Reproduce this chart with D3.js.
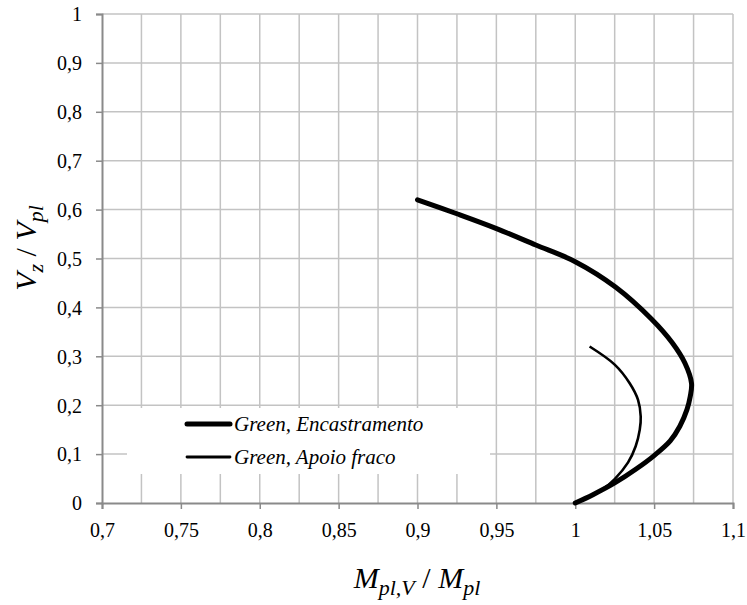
<!DOCTYPE html>
<html>
<head>
<meta charset="utf-8">
<script src="https://cdn.jsdelivr.net/npm/d3@7"></script>
<style>
  html, body { margin: 0; padding: 0; background: #fff; }
  .title { position: absolute; font-family: "Times New Roman"; font-size: 30px; font-style: italic;
           text-align: center; white-space: nowrap; line-height: 34px; height: 34px; color: #000; }
  .title .sub { font-size: 22px; position: relative; top: 7px; }
  .title .sl { font-style: normal; }
  #xtitle { left: 0; width: 834px; top: 561px; }
  #ytitle { left: -124px; top: 231px; width: 300px; transform: rotate(-90deg); }
  #chart { position: absolute; left: 0; top: 0; }
</style>
</head>
<body>
<svg id="chart" width="747" height="605"></svg>
<div class="title" id="xtitle">M<span class="sub">pl,V</span> <span class="sl">/</span> M<span class="sub">pl</span></div>
<div class="title" id="ytitle">V<span class="sub">z</span> <span class="sl">/</span> V<span class="sub">pl</span></div>
<script>
// ---- data ----
const xTicks = [0.7, 0.75, 0.8, 0.85, 0.9, 0.95, 1, 1.05, 1.1];
const yTicks = [0, 0.1, 0.2, 0.3, 0.4, 0.5, 0.6, 0.7, 0.8, 0.9, 1];
const xGrid = [0.725, 0.75, 0.775, 0.8, 0.825, 0.85, 0.875, 0.9, 0.925, 0.95, 0.975, 1, 1.025, 1.05, 1.075, 1.1];
const seriesNames = ["Green, Encastramento", "Green, Apoio fraco"];
const encX = [0.900, 0.9254, 0.9497, 0.975, 1.000, 1.0255, 1.0483, 1.0616, 1.0695, 1.0737, 1.0729, 1.0708, 1.0663, 1.0602, 1.050, 1.0388, 1.025, 1.0112, 1.000];
const encY = [0.620, 0.591, 0.5617, 0.5276, 0.4935, 0.4417, 0.3763, 0.3272, 0.2863, 0.245, 0.218, 0.191, 0.157, 0.127, 0.097, 0.070, 0.041, 0.017, 0.000];
const apoX = [1.0091, 1.025, 1.0345, 1.0398, 1.0415, 1.0409, 1.0383, 1.0335, 1.025, 1.0176, 1.000];
const apoY = [0.320, 0.283, 0.245, 0.211, 0.177, 0.150, 0.116, 0.083, 0.049, 0.029, 0.000];

// ---- layout ----
const FONT = "Times New Roman";
const svg = d3.select("#chart");
const x = d3.scaleLinear().domain([0.7, 1.1]).range([102, 733]);
const y = d3.scaleLinear().domain([0, 1]).range([503, 14]);
const fmt = d => String(d).replace(".", ",");
const gridColor = "#c3c3c3", axisColor = "#8a8a8a";

// grid
svg.append("g").selectAll("line").data(xGrid).join("line")
  .attr("x1", d => x(d)).attr("x2", d => x(d))
  .attr("y1", y(0)).attr("y2", y(1))
  .attr("stroke", gridColor).attr("stroke-width", 1.5);
svg.append("g").selectAll("line").data(yTicks.filter(d => d > 0)).join("line")
  .attr("x1", x(0.7)).attr("x2", x(1.1))
  .attr("y1", d => y(d)).attr("y2", d => y(d))
  .attr("stroke", gridColor).attr("stroke-width", 1.5);

// legend background (covers grid)
svg.append("rect").attr("x", 127).attr("y", 408).attr("width", 363).attr("height", 66).attr("fill", "#fff");

// axes
const xAxis = d3.axisBottom(x).tickValues(xTicks).tickFormat(fmt).tickSize(6).tickPadding(14);
const gx = svg.append("g").attr("transform", `translate(0,${y(0)})`).call(xAxis);
const yAxis = d3.axisLeft(y).tickValues(yTicks).tickFormat(fmt).tickSize(6).tickPadding(14);
const gy = svg.append("g").attr("transform", `translate(${x(0.7)},0)`).call(yAxis);
[gx, gy].forEach(g => {
  g.attr("font-family", FONT).attr("font-size", 20);
  g.select(".domain").attr("stroke", axisColor).attr("stroke-width", 2);
  g.selectAll(".tick line").attr("stroke", axisColor).attr("stroke-width", 1.5);
  g.selectAll(".tick text").attr("fill", "#000").attr("font-size", 20).attr("font-family", FONT);
});
gy.selectAll(".tick text").attr("dy", "0.34em");

// curves
const line = d3.line().x(d => x(d[0])).y(d => y(d[1])).curve(d3.curveCatmullRom.alpha(0.5));
const enc = encX.map((v, i) => [v, encY[i]]);
const apo = apoX.map((v, i) => [v, apoY[i]]);
svg.append("path").datum(apo).attr("d", line).attr("fill", "none")
  .attr("stroke", "#000").attr("stroke-width", 2.6);
svg.append("path").datum(enc).attr("d", line).attr("fill", "none")
  .attr("stroke", "#000").attr("stroke-width", 5).attr("stroke-linecap", "round");

// legend
const leg = [{name: seriesNames[0], w: 5, yy: 424}, {name: seriesNames[1], w: 2.8, yy: 457}];
svg.append("g").selectAll("line").data(leg).join("line")
  .attr("x1", 187).attr("x2", 230).attr("y1", d => d.yy).attr("y2", d => d.yy)
  .attr("stroke", "#000").attr("stroke-width", d => d.w).attr("stroke-linecap", "round");
leg.forEach(d => {
  svg.append("text").attr("x", 234).attr("y", d.yy + 7).attr("font-family", FONT)
    .attr("font-size", 21).attr("font-style", "italic").text(d.name);
});
</script>
</body>
</html>
